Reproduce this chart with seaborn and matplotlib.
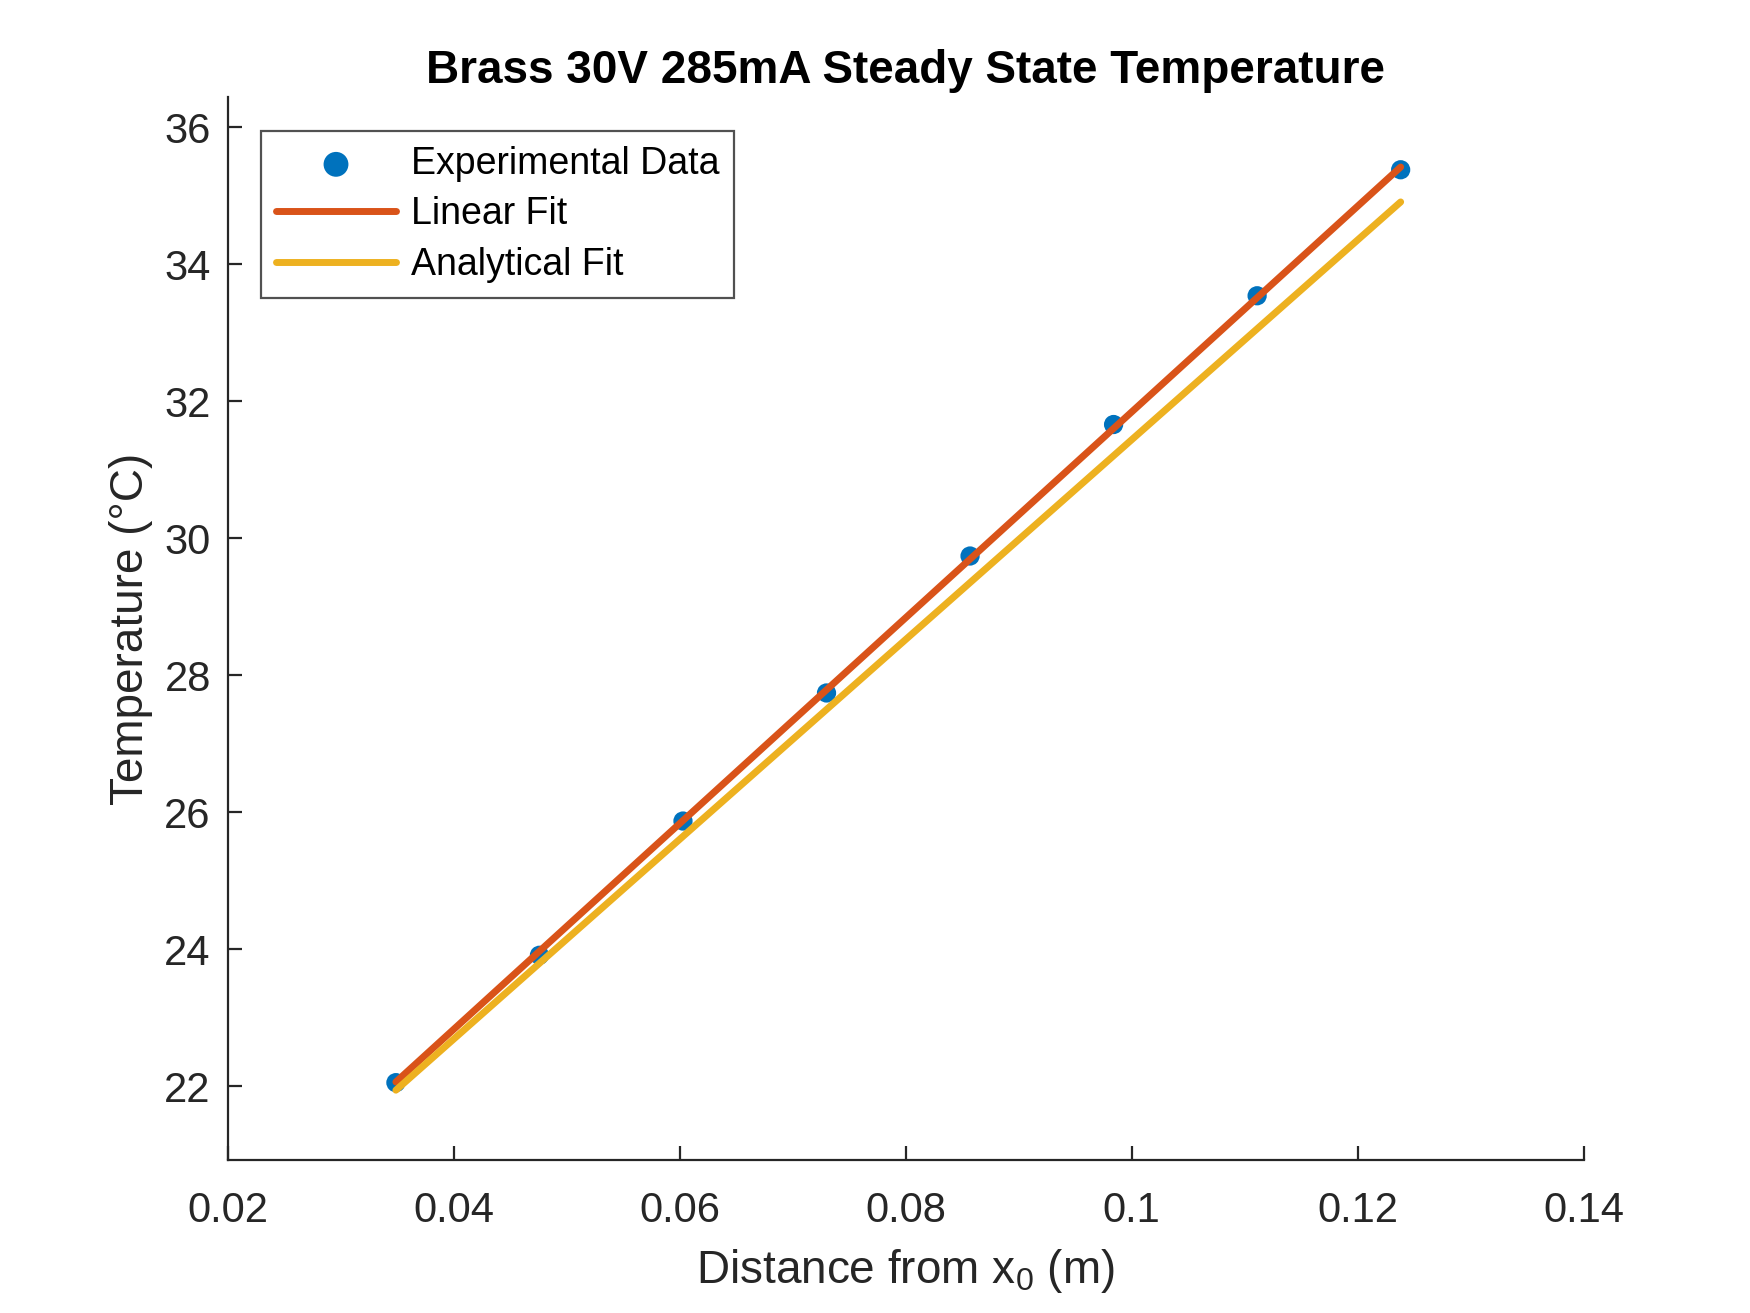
import numpy as np
import pandas as pd
import seaborn as sns
import matplotlib
matplotlib.use('Agg')
from matplotlib import pyplot as plt

# readings off the brass rod (thermocouple positions and temperatures)
distance = [0.0349, 0.0476, 0.0603, 0.0730, 0.0857, 0.0984, 0.1111, 0.1238]
temperature = [22.05, 23.91, 25.87, 27.74, 29.74, 31.66, 33.54, 35.38]

# fit lines, ends only
fit_x = [0.0349, 0.1238]
linear_fit = [22.06, 35.42]
analytical_fit = [21.94, 34.91]

blue, orange, yellow = '#0072BD', '#D95319', '#EDB120'
dark = '#262626'

sns.set_style('white')
plt.rcParams['font.family'] = ['Liberation Sans', 'DejaVu Sans']
plt.rcParams['mathtext.fontset'] = 'custom'
plt.rcParams['mathtext.rm'] = 'Liberation Sans'

fig = plt.figure(figsize=(8.75, 6.565), dpi=200)
ax = fig.add_axes([0.13, 0.1165, 0.775, 0.8095])

exp = pd.DataFrame({'x': distance, 'T': temperature})
fits = pd.DataFrame({'x': fit_x, 'lin': linear_fit, 'ana': analytical_fit})

sns.scatterplot(data=exp, x='x', y='T', ax=ax, color=blue, s=48, edgecolor='none',
                label='Experimental Data', zorder=2)
sns.lineplot(data=fits, x='x', y='lin', ax=ax, color=orange, lw=2.5, label='Linear Fit', zorder=3)
sns.lineplot(data=fits, x='x', y='ana', ax=ax, color=yellow, lw=2.5, label='Analytical Fit', zorder=3)

ax.set_xlim(0.02, 0.14)
ax.set_ylim(20.92, 36.44)
ax.set_xticks([0.02, 0.04, 0.06, 0.08, 0.1, 0.12, 0.14])
ax.set_xticklabels(['0.02', '0.04', '0.06', '0.08', '0.1', '0.12', '0.14'])
ax.set_yticks(range(22, 37, 2))

for side in ['top', 'right']:
    ax.spines[side].set_visible(False)
for side in ['left', 'bottom']:
    ax.spines[side].set_color(dark)
    ax.spines[side].set_linewidth(0.8)
ax.tick_params(direction='in', length=5, width=0.8, colors=dark, labelsize=15, pad=6,
               left=True, bottom=True)
ax.tick_params(axis='x', pad=11)

ax.set_title('Brass 30V 285mA Steady State Temperature', fontsize=16.5, fontweight='bold',
             color='black', pad=5)
ax.set_xlabel(r'Distance from x$_\mathregular{0}$ (m)', fontsize=16.5, color=dark, labelpad=6)
ax.set_ylabel('Temperature (°C)', fontsize=16.5, color=dark, labelpad=4)

leg = ax.legend(loc='upper left', bbox_to_anchor=(0.0247, 0.968), borderaxespad=0,
                fontsize=13.5, frameon=True, fancybox=False, handlelength=3.2,
                handletextpad=0.4, labelspacing=0.38, borderpad=0.4)
leg.get_frame().set_edgecolor(dark)
leg.get_frame().set_linewidth(0.8)
leg.legend_handles[0].set_sizes([80])
for t in leg.get_texts():
    t.set_color('black')

plt.savefig('out.png', dpi=200)
